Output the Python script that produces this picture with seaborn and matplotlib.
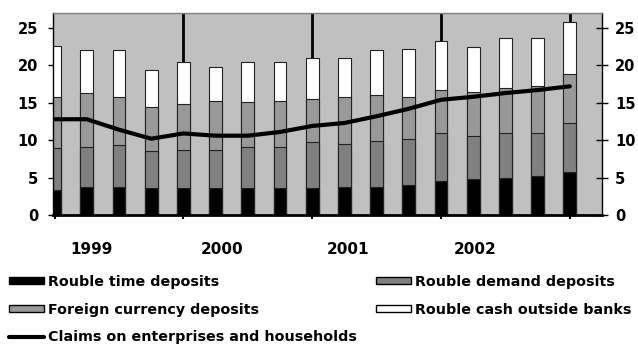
import pandas as pd
import seaborn as sns
import matplotlib.pyplot as plt
import matplotlib.transforms as mtransforms
from matplotlib.patches import Patch
from matplotlib.lines import Line2D

# Quarterly data, end of quarter, 1999Q1 - 2003Q1
quarters = ["1999Q1", "1999Q2", "1999Q3", "1999Q4", "2000Q1", "2000Q2", "2000Q3", "2000Q4",
            "2001Q1", "2001Q2", "2001Q3", "2001Q4", "2002Q1", "2002Q2", "2002Q3", "2002Q4",
            "2003Q1"]
time_dep = [3.3, 3.7, 3.7, 3.6, 3.6, 3.6, 3.6, 3.6, 3.6, 3.7, 3.7, 4.0, 4.5, 4.8, 5.0, 5.2, 5.7]
demand_dep = [5.6, 5.4, 5.6, 4.9, 5.1, 5.1, 5.5, 5.5, 6.1, 5.8, 6.2, 6.1, 6.4, 5.7, 5.9, 5.7, 6.6]
foreign_dep = [6.9, 7.2, 6.5, 6.0, 6.2, 6.6, 6.0, 6.2, 5.8, 6.3, 6.1, 5.7, 5.8, 6.0, 6.1, 6.3, 6.5]
cash = [6.8, 5.8, 6.2, 4.9, 5.5, 4.5, 5.3, 5.1, 5.5, 5.2, 6.0, 6.4, 6.5, 5.9, 6.6, 6.4, 7.0]
claims = [12.8, 12.8, 11.4, 10.2, 10.9, 10.6, 10.6, 11.1, 11.9, 12.3, 13.2, 14.2, 15.4, 15.8,
          16.3, 16.7, 17.2]
year_labels = ["1999", "2000", "2001", "2002"]
year_pos = [1.15, 5.2, 9.1, 13.05]
yticks = [0, 5, 10, 15, 20, 25]

df = pd.DataFrame({"q": range(len(quarters)), "quarter": quarters,
                   "time": time_dep, "demand": demand_dep,
                   "foreign": foreign_dep, "cash": cash, "claims": claims})
# cumulative tops for the stacked look
df["c1"] = df["time"]
df["c2"] = df["c1"] + df["demand"]
df["c3"] = df["c2"] + df["foreign"]
df["c4"] = df["c3"] + df["cash"]

sns.set_theme(style="white")
plt.rcParams["font.family"] = ["DejaVu Sans"]
plt.rcParams["font.weight"] = "bold"
for k in ["text.color", "axes.labelcolor", "xtick.color", "ytick.color"]:
    plt.rcParams[k] = "black"

fig = plt.figure(figsize=(6.38, 3.51), dpi=100)
ax = fig.add_axes([53 / 638, 1 - 215 / 351, 549 / 638, 202 / 351])
ax.set_facecolor("#c0c0c0")

# year separators behind the bars
for xv in [4, 8, 12, 16]:
    ax.axvline(xv, color="black", lw=2, zorder=0.5)

layers = [("c4", "white"), ("c3", "#999999"), ("c2", "#808080"), ("c1", "black")]
for col, colr in layers:
    sns.barplot(data=df, x="q", y=col, color=colr, native_scale=True, width=0.4,
                edgecolor="#222222", linewidth=0.8, saturation=1, ax=ax, zorder=2)

ax.plot(df["q"], df["claims"], color="black", lw=3, zorder=3, solid_capstyle="round")

ax.set_xlim(-0.05, 17.0)
ax.set_ylim(0, 27)
ax.set_yticks(yticks)
ax.set_yticklabels([str(v) for v in yticks], fontweight="bold", fontsize=10.5)
ax.set_xticks([0, 4, 8, 12, 16])
ax.set_xticklabels([])
ax.set_xlabel("")
ax.set_ylabel("")
ax.tick_params(axis="y", length=3.6, width=1, color="black", pad=7, left=True)
ax.tick_params(axis="x", length=3, width=1.5, color="black", bottom=True)

for side in ["left", "right"]:
    ax.spines[side].set_color("black")
    ax.spines[side].set_linewidth(1)
ax.spines["bottom"].set_color("black")
ax.spines["bottom"].set_linewidth(2)
ax.spines["top"].set_color("#808080")
ax.spines["top"].set_linewidth(1)

ax2 = ax.twinx()
ax2.set_ylim(0, 27)
ax2.set_yticks(yticks)
ax2.set_yticklabels([str(v) for v in yticks], fontweight="bold", fontsize=10.5)
ax2.tick_params(axis="y", direction="inout", length=8.6, width=1, color="black",
                pad=5, right=True)
ax2.grid(False)
for s in ax2.spines.values():
    s.set_visible(False)

trans = mtransforms.blended_transform_factory(ax.transData, ax.transAxes)
for lab, xp in zip(year_labels, year_pos):
    ax.text(xp, -0.17, lab, transform=trans, ha="center", va="center",
            fontsize=11, fontweight="bold")

left_handles = [
    Patch(facecolor="black", edgecolor="black", label="Rouble time deposits"),
    Patch(facecolor="#999999", edgecolor="black", label="Foreign currency deposits"),
    Line2D([0], [0], color="black", lw=3, label="Claims on enterprises and households"),
]
right_handles = [
    Patch(facecolor="#808080", edgecolor="black", label="Rouble demand deposits"),
    Patch(facecolor="white", edgecolor="black", label="Rouble cash outside banks"),
]
leg_kw = dict(loc="upper left", frameon=False, prop={"size": 10.3, "weight": "bold"},
              handlelength=2.45, handleheight=0.35, handletextpad=0.3,
              labelspacing=0.95, borderpad=0, borderaxespad=0)
leg1 = fig.legend(handles=left_handles, bbox_to_anchor=(9 / 638, 1 - 275 / 351), **leg_kw)
fig.legend(handles=right_handles, bbox_to_anchor=(376 / 638, 1 - 275 / 351), **leg_kw)

fig.savefig("out.png", dpi=100)
